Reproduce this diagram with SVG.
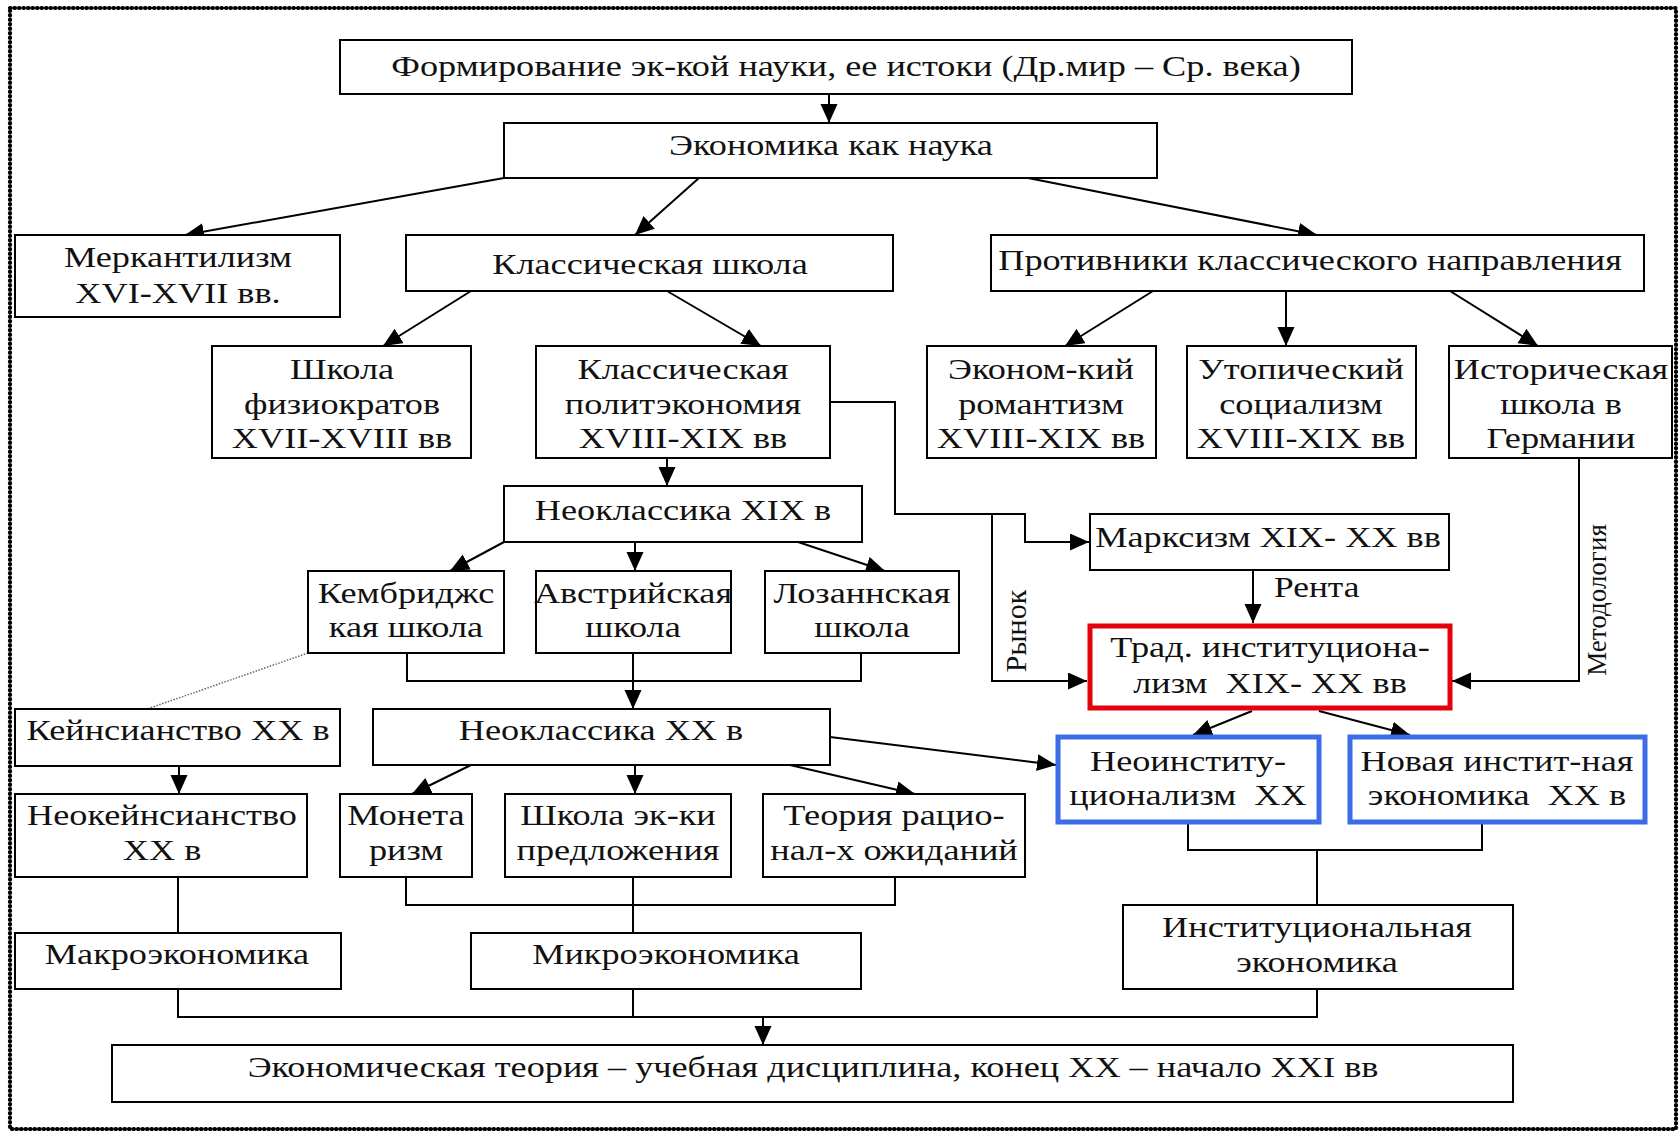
<svg xmlns="http://www.w3.org/2000/svg" width="1679" height="1131" viewBox="0 0 1679 1131">
<style>
.b{fill:#fff;stroke:#000;stroke-width:2}
.red{fill:#fff;stroke:#e4000c;stroke-width:5}
.blue{fill:#fff;stroke:#3c6de6;stroke-width:5}
text{font-family:"Liberation Serif","Times New Roman",serif;font-size:29px;fill:#111;text-anchor:middle}
.st{text-anchor:start}
.pre{white-space:pre}
.c line,.c polyline{stroke:#000;stroke-width:2;fill:none}
.a{marker-end:url(#ah)}
</style>
<defs>
<marker id="ah" markerUnits="userSpaceOnUse" markerWidth="20" markerHeight="18" refX="19" refY="8.5" orient="auto">
<path d="M0,0 L19,8.5 L0,17 z" fill="#000"/>
</marker>
</defs>
<rect width="1679" height="1131" fill="#fff"/>
<rect x="10" y="8" width="1666" height="1121" fill="none" stroke="#000" stroke-width="4.2" stroke-dasharray="0.5 4" stroke-linecap="round"/>

<g id="connectors" class="c">
<line class="a" x1="829" y1="94" x2="829" y2="123"/>
<line class="a" x1="504" y1="178" x2="185" y2="235"/>
<line class="a" x1="699" y1="178" x2="635" y2="235"/>
<line class="a" x1="1028" y1="178" x2="1317" y2="235"/>
<line class="a" x1="471" y1="291" x2="383" y2="346"/>
<line class="a" x1="667" y1="291" x2="761" y2="346"/>
<line class="a" x1="1153" y1="291" x2="1065" y2="346"/>
<line class="a" x1="1286" y1="291" x2="1286" y2="346"/>
<line class="a" x1="1450" y1="291" x2="1538" y2="346"/>
<line class="a" x1="667" y1="458" x2="667" y2="486"/>
<polyline class="a" points="830,402 895,402 895,514 1025,514 1025,542 1089,542"/>
<polyline class="a" points="992,514 992,681 1087,681"/>
<line class="a" x1="1253" y1="570" x2="1253" y2="623"/>
<polyline class="a" points="1579,457 1579,681 1452,681"/>
<line class="a" x1="504" y1="542" x2="450" y2="571"/>
<line class="a" x1="635" y1="542" x2="635" y2="571"/>
<line class="a" x1="798" y1="542" x2="885" y2="571"/>
<polyline points="407,653 407,681 861,681 861,653"/>
<line class="a" x1="633" y1="653" x2="633" y2="709"/>
<line x1="308" y1="653" x2="147" y2="709" style="stroke:#666;stroke-width:1.5;stroke-dasharray:1.5 1.5"/>
<line class="a" x1="179" y1="766" x2="179" y2="794"/>
<line class="a" x1="471" y1="765" x2="412" y2="794"/>
<line class="a" x1="635" y1="765" x2="635" y2="794"/>
<line class="a" x1="790" y1="765" x2="915" y2="794"/>
<line class="a" x1="830" y1="737" x2="1056" y2="765"/>
<line class="a" x1="1252" y1="711" x2="1193" y2="735"/>
<line class="a" x1="1319" y1="711" x2="1410" y2="735"/>
<polyline points="1188,824 1188,850 1482,850 1482,824"/>
<line x1="1317" y1="850" x2="1317" y2="905"/>
<line x1="178" y1="877" x2="178" y2="933"/>
<polyline points="406,877 406,905 895,905 895,877"/>
<line x1="633" y1="877" x2="633" y2="933"/>
<polyline points="178,989 178,1017 1317,1017 1317,989"/>
<line x1="633" y1="989" x2="633" y2="1017"/>
<line class="a" x1="763" y1="1017" x2="763" y2="1045"/>
<text transform="translate(1026 631) rotate(-90)" style="font-size:30px">Рынок</text>
<text transform="translate(1606 600) rotate(-90)" style="font-size:27px">Методология</text>
<text class="st" transform="translate(1274 597) scale(1.22 1)">Рента</text>
</g>

<g id="n_form"><rect class="b" x="340" y="40" width="1012" height="54"/>
<text transform="translate(846 0) scale(1.25 1)" y="76">Формирование эк-кой науки, ее истоки (Др.мир – Ср. века)</text></g>
<g id="n_econ"><rect class="b" x="504" y="123" width="653" height="55"/>
<text transform="translate(831 0) scale(1.25 1)" y="155">Экономика как наука</text></g>
<g id="n_merc"><rect class="b" x="15" y="235" width="325" height="82"/>
<g transform="translate(178 0) scale(1.25 1)"><text y="267">Меркантилизм</text><text y="303">XVI-XVII вв.</text></g></g>
<g id="n_class"><rect class="b" x="406" y="235" width="487" height="56"/>
<text transform="translate(650 0) scale(1.25 1)" y="274">Классическая школа</text></g>
<g id="n_opp"><rect class="b" x="991" y="235" width="653" height="56"/>
<text transform="translate(1310 0) scale(1.25 1)" y="270">Противники классического направления</text></g>
<g id="n_phys"><rect class="b" x="212" y="346" width="259" height="112"/>
<g transform="translate(342 0) scale(1.25 1)"><text y="379">Школа</text><text y="414">физиократов</text><text y="448">XVII-XVIII вв</text></g></g>
<g id="n_polit"><rect class="b" x="536" y="346" width="294" height="112"/>
<g transform="translate(683 0) scale(1.25 1)"><text y="379">Классическая</text><text y="414">политэкономия</text><text y="448">XVIII-XIX вв</text></g></g>
<g id="n_rom"><rect class="b" x="927" y="346" width="229" height="112"/>
<g transform="translate(1041 0) scale(1.25 1)"><text y="379">Эконом-кий</text><text y="414">романтизм</text><text y="448">XVIII-XIX вв</text></g></g>
<g id="n_utop"><rect class="b" x="1187" y="346" width="229" height="112"/>
<g transform="translate(1301 0) scale(1.25 1)"><text y="379">Утопический</text><text y="414">социализм</text><text y="448">XVIII-XIX вв</text></g></g>
<g id="n_hist"><rect class="b" x="1449" y="346" width="223" height="112"/>
<g transform="translate(1561 0) scale(1.25 1)"><text y="379">Историческая</text><text y="414">школа в</text><text y="448">Германии</text></g></g>
<g id="n_neo19"><rect class="b" x="504" y="486" width="358" height="56"/>
<text transform="translate(683 0) scale(1.25 1)" y="520">Неоклассика XIX в</text></g>
<g id="n_marx"><rect class="b" x="1090" y="514" width="359" height="56"/>
<text transform="translate(1268 0) scale(1.25 1)" y="547">Марксизм XIX- XX вв</text></g>
<g id="n_camb"><rect class="b" x="308" y="571" width="196" height="82"/>
<g transform="translate(406 0) scale(1.25 1)"><text y="603">Кембриджс</text><text y="637">кая школа</text></g></g>
<g id="n_aust"><rect class="b" x="536" y="571" width="195" height="82"/>
<g transform="translate(633 0) scale(1.25 1)"><text y="603">Австрийская</text><text y="637">школа</text></g></g>
<g id="n_laus"><rect class="b" x="765" y="571" width="194" height="82"/>
<g transform="translate(862 0) scale(1.25 1)"><text y="603">Лозаннская</text><text y="637">школа</text></g></g>
<g id="n_trad"><rect class="red" x="1090" y="626" width="360" height="82"/>
<g transform="translate(1270 0) scale(1.25 1)"><text y="657">Трад. институциона-</text><text class="pre" y="693">лизм  XIX- XX вв</text></g></g>
<g id="n_keyn"><rect class="b" x="15" y="709" width="325" height="57"/>
<text transform="translate(178 0) scale(1.25 1)" y="740">Кейнсианство XX в</text></g>
<g id="n_neo20"><rect class="b" x="373" y="709" width="457" height="56"/>
<text transform="translate(601 0) scale(1.25 1)" y="740">Неоклассика XX в</text></g>
<g id="n_neoinst"><rect class="blue" x="1058" y="737" width="261" height="85"/>
<g transform="translate(1188 0) scale(1.25 1)"><text y="771">Неоинститу-</text><text class="pre" y="805">ционализм  XX</text></g></g>
<g id="n_newinst"><rect class="blue" x="1350" y="737" width="295" height="85"/>
<g transform="translate(1497 0) scale(1.25 1)"><text y="771">Новая инстит-ная</text><text class="pre" y="805">экономика  XX в</text></g></g>
<g id="n_neokeyn"><rect class="b" x="15" y="794" width="292" height="83"/>
<g transform="translate(162 0) scale(1.25 1)"><text y="825">Неокейнсианство</text><text y="860">XX в</text></g></g>
<g id="n_monet"><rect class="b" x="340" y="794" width="132" height="83"/>
<g transform="translate(406 0) scale(1.25 1)"><text y="825">Монета</text><text y="860">ризм</text></g></g>
<g id="n_supply"><rect class="b" x="505" y="794" width="226" height="83"/>
<g transform="translate(618 0) scale(1.25 1)"><text y="825">Школа эк-ки</text><text y="860">предложения</text></g></g>
<g id="n_ratexp"><rect class="b" x="763" y="794" width="262" height="83"/>
<g transform="translate(894 0) scale(1.25 1)"><text y="825">Теория рацио-</text><text y="860">нал-х ожиданий</text></g></g>
<g id="n_macro"><rect class="b" x="15" y="933" width="326" height="56"/>
<text transform="translate(177 0) scale(1.25 1)" y="964">Макроэкономика</text></g>
<g id="n_micro"><rect class="b" x="471" y="933" width="390" height="56"/>
<text transform="translate(666 0) scale(1.25 1)" y="964">Микроэкономика</text></g>
<g id="n_instecon"><rect class="b" x="1123" y="905" width="390" height="84"/>
<g transform="translate(1317 0) scale(1.25 1)"><text y="937">Институциональная</text><text y="972">экономика</text></g></g>
<g id="n_final"><rect class="b" x="112" y="1045" width="1401" height="57"/>
<text transform="translate(813 0) scale(1.25 1)" y="1077">Экономическая теория – учебная дисциплина, конец XX – начало XXI вв</text></g>
</svg>
